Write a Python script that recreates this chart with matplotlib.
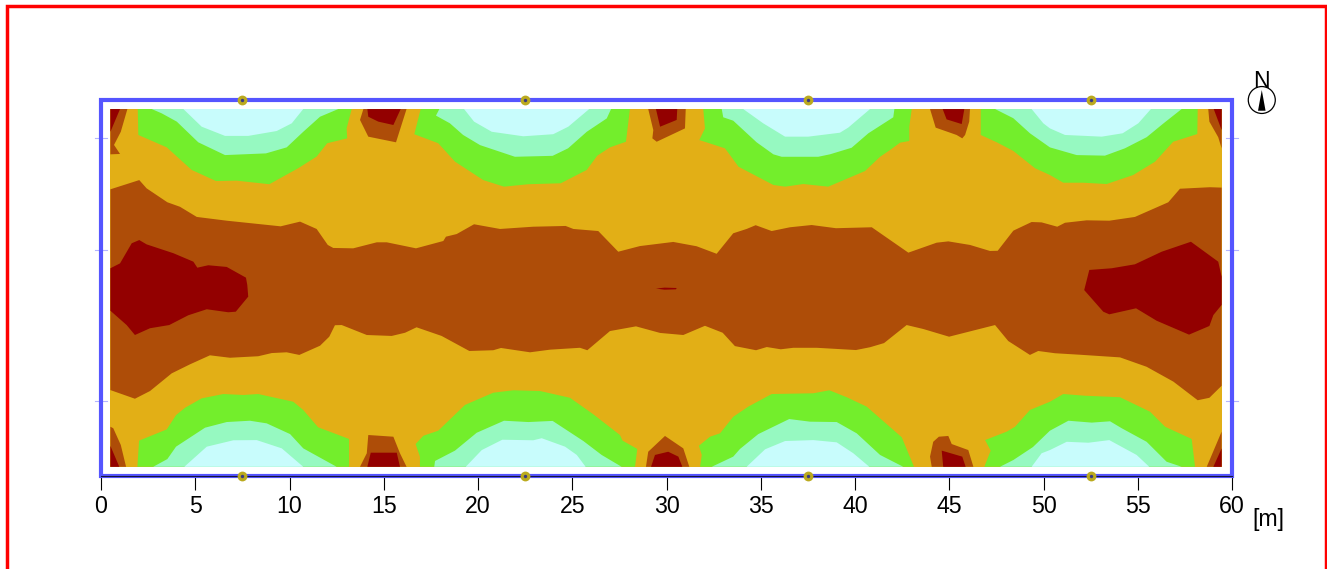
from matplotlib import pyplot as plt
from matplotlib.lines import Line2D
from matplotlib.patches import Circle, Polygon, Rectangle

plt.rcParams['font.family'] = ['Liberation Sans', 'DejaVu Sans']

# room 60 x 20 m, calculation area and luminaires
room_w = 60
room_h = 20
area_x = [0.5, 59.45]
area_y = [0.49, 19.52]
x_ticks = [0, 5, 10, 15, 20, 25, 30, 35, 40, 45, 50, 55, 60]
lum_x = [7.5, 22.5, 37.5, 52.5]
side_marks_y = [18, 12, 4]

col_red = '#930000'
col_brown = '#AE4D08'
col_yellow = '#E2AF16'
col_green = '#73EE2C'
col_mint = '#96F9C1'
col_cyan = '#C8FCFC'

# isolines in metres
band_top = [(0.5, 15.25), (2.03, 15.74), (2.42, 15.30), (3.52, 14.56), (4.19, 14.32), (5.08, 13.78), (6.67, 13.58),
            (9.53, 13.28), (10.56, 13.53), (11.44, 13.14), (12.03, 12.29), (12.32, 12.13), (13.38, 12.11),
            (14.63, 12.43), (15.16, 12.43), (16.71, 12.11), (18.16, 12.50), (18.30, 12.73), (18.87, 12.87),
            (19.79, 13.39), (21.17, 13.14), (22.93, 13.26), (24.65, 13.30), (25.06, 13.14), (26.38, 13.03),
            (27.44, 11.93), (28.59, 12.23), (30.36, 12.45), (31.60, 12.22), (32.66, 11.82), (33.54, 12.91),
            (34.25, 13.14), (34.73, 13.34), (35.58, 13.03), (36.55, 13.23), (37.70, 13.35), (38.99, 13.18),
            (40.89, 13.23), (42.83, 11.88), (44.33, 12.41), (44.95, 12.48), (46.10, 12.29), (47.16, 11.97),
            (47.57, 11.98), (48.40, 13.05), (49.37, 13.51), (49.90, 13.49), (50.73, 13.26), (51.14, 13.47),
            (52.29, 13.60), (53.49, 13.58), (54.85, 13.78), (56.62, 14.56), (57.24, 15.28), (58.83, 15.36),
            (59.45, 15.34)]
band_bottom = [(0.5, 4.57), (1.80, 4.11), (2.60, 4.52), (3.75, 5.46), (4.72, 5.94), (5.78, 6.42), (6.84, 6.29),
               (8.34, 6.37), (9.06, 6.54), (9.85, 6.58), (10.52, 6.44), (11.62, 6.93), (12.11, 7.41), (12.41, 8.02),
               (12.77, 8.03), (14.10, 7.50), (15.42, 7.45), (16.13, 7.62), (16.74, 7.91), (18.07, 7.45),
               (19.54, 6.65), (20.81, 6.69), (21.22, 6.81), (22.76, 6.58), (23.82, 6.72), (25.41, 6.82),
               (25.80, 6.69), (27.00, 7.71), (28.38, 7.96), (29.66, 7.61), (30.89, 7.50), (32.04, 7.99),
               (32.98, 7.62), (33.63, 6.91), (34.75, 6.69), (35.32, 6.86), (36.06, 6.74), (36.73, 6.82),
               (37.97, 6.82), (40.05, 6.70), (40.80, 6.85), (41.54, 7.07), (42.74, 8.03), (43.62, 7.82),
               (44.99, 7.41), (47.43, 8.03), (48.13, 7.18), (49.28, 6.44), (49.72, 6.65), (50.61, 6.53),
               (51.94, 6.45), (54.06, 6.31), (55.47, 5.81), (56.89, 5.02), (58.18, 4.03), (58.80, 4.16),
               (59.45, 4.80)]

hot_left = [(0.5, 11.05), (1.01, 11.31), (1.63, 12.38), (2.03, 12.55), (2.42, 12.32), (3.84, 11.85), (4.90, 11.40),
            (5.11, 11.08), (5.69, 11.21), (6.67, 11.12), (7.69, 10.55), (7.76, 10.16), (7.81, 9.54), (7.15, 8.74),
            (6.75, 8.71), (5.61, 8.87), (4.63, 8.55), (3.62, 8.03), (2.60, 7.86), (1.80, 7.50), (1.36, 8.03),
            (0.5, 8.79)]
hot_right = [(52.16, 9.89), (52.43, 10.96), (53.62, 11.05), (54.85, 11.26), (56.27, 11.93), (57.82, 12.46),
             (59.27, 11.40), (59.45, 10.60), (59.45, 9.10), (59.01, 8.56), (58.80, 7.98), (57.72, 7.52),
             (56.00, 8.26), (54.91, 8.92), (53.49, 8.60), (53.17, 8.74)]
hot_middle = [(29.44, 9.97), (29.9, 10.02), (30.54, 10.0), (30.5, 9.93), (29.9, 9.91)]

green_top = [
    [(1.95, 19.52), (1.98, 18.14), (3.49, 17.48), (4.81, 16.28), (6.10, 15.69), (7.20, 15.71), (8.93, 15.52),
     (10.46, 16.37), (11.44, 16.99), (12.00, 17.70), (13.06, 17.96), (13.03, 18.49), (13.30, 19.52)],
    [(16.96, 19.52), (16.62, 18.18), (17.89, 17.70), (18.78, 16.72), (20.28, 15.74), (21.38, 15.39), (22.67, 15.52),
     (24.39, 15.57), (25.77, 16.28), (26.33, 17.04), (27.00, 17.48), (27.85, 17.78), (28.06, 19.52)],
    [(31.95, 19.52), (32.04, 18.49), (31.74, 17.87), (33.10, 17.43), (33.37, 17.07), (33.82, 16.45), (35.67, 15.48),
     (36.29, 15.39), (37.26, 15.53), (38.58, 15.39), (40.53, 16.22), (41.33, 16.98), (41.86, 17.34), (42.39, 17.73),
     (42.88, 17.82), (42.88, 18.58), (43.01, 19.52)],
    [(46.67, 19.52), (46.67, 18.14), (47.52, 17.75), (48.40, 17.29), (49.55, 16.37), (50.34, 16.01), (51.05, 15.60),
     (52.11, 15.60), (53.35, 15.53), (54.76, 16.01), (55.92, 16.72), (56.88, 17.78), (58.16, 18.19), (58.18, 19.52)],
]
mint_top = [
    [(2.69, 19.52), (3.22, 19.29), (4.02, 18.85), (5.16, 17.75), (6.58, 17.07), (8.75, 17.16), (9.85, 17.48),
     (10.73, 18.31), (11.62, 19.11), (12.59, 19.52)],
    [(17.95, 19.52), (17.77, 19.17), (18.51, 18.76), (19.21, 18.14), (20.11, 17.60), (21.96, 16.98), (23.96, 17.03),
     (24.78, 17.43), (25.77, 18.31), (26.83, 19.02), (27.06, 19.52)],
    [(32.93, 19.52), (33.01, 19.08), (33.54, 18.90), (34.78, 17.75), (35.67, 17.11), (36.11, 16.98), (38.05, 16.98),
     (38.67, 17.11), (39.82, 17.46), (40.71, 18.23), (42.03, 19.08), (42.09, 19.52)],
    [(47.43, 19.52), (48.40, 19.03), (49.28, 18.23), (50.34, 17.48), (51.76, 17.07), (53.26, 17.04), (54.32, 17.43),
     (55.47, 18.02), (56.37, 18.76), (57.33, 19.52)],
]
cyan_top = [
    [(4.37, 19.52), (5.34, 18.58), (6.58, 18.09), (7.81, 18.09), (9.32, 18.35), (10.12, 18.76), (10.73, 19.52)],
    [(19.26, 19.52), (19.79, 18.85), (20.73, 18.31), (22.40, 18.07), (23.99, 18.18), (24.79, 18.58), (25.90, 19.52)],
    [(34.07, 19.52), (35.13, 18.76), (36.29, 18.05), (37.52, 18.05), (39.20, 18.26), (39.64, 18.53), (40.80, 19.52)],
    [(49.37, 19.52), (49.99, 18.76), (50.34, 18.49), (51.14, 18.14), (53.09, 18.05), (54.20, 18.23), (55.03, 18.76),
     (55.70, 19.52)],
]
green_bottom = [
    [(1.93, 0.49), (2.02, 1.88), (3.49, 2.48), (3.98, 3.24), (4.46, 3.63), (5.34, 4.13), (6.49, 4.36), (7.55, 4.31),
     (8.34, 4.36), (10.20, 3.95), (10.73, 3.51), (11.52, 2.59), (13.16, 1.97), (13.16, 0.49)],
    [(16.92, 0.49), (16.92, 1.03), (16.69, 1.70), (17.10, 2.14), (17.89, 2.41), (19.31, 3.78), (20.81, 4.43),
     (21.87, 4.56), (23.29, 4.52), (24.88, 4.16), (26.12, 3.28), (27.53, 2.18), (27.67, 1.88), (28.45, 1.44),
     (28.33, 0.49)],
    [(31.78, 0.49), (31.87, 1.12), (31.72, 1.61), (32.31, 2.09), (32.84, 2.27), (33.54, 3.15), (34.34, 3.69),
     (35.58, 4.36), (37.79, 4.40), (38.64, 4.56), (39.56, 4.19), (40.62, 3.69), (42.48, 2.06), (43.13, 0.49)],
    [(46.86, 0.49), (47.20, 1.35), (46.90, 1.91), (48.05, 2.36), (48.49, 2.62), (49.28, 3.51), (50.34, 3.95),
     (51.05, 4.36), (52.20, 4.27), (54.06, 4.19), (55.65, 3.42), (56.45, 2.62), (57.86, 1.97), (58.04, 0.49)],
]
mint_bottom = [
    [(2.77, 0.49), (3.52, 0.90), (3.98, 1.56), (5.52, 2.57), (6.67, 2.87), (7.90, 2.94), (8.79, 2.80), (10.03, 2.23),
     (10.73, 1.47), (12.50, 0.49)],
    [(17.68, 0.49), (17.72, 0.80), (18.78, 1.35), (19.93, 2.30), (21.38, 2.94), (22.67, 2.87), (23.96, 2.93),
     (25.59, 1.86), (26.56, 1.12), (27.62, 0.49)],
    [(32.40, 0.49), (33.54, 1.03), (33.90, 1.44), (34.87, 2.23), (36.51, 3.03), (37.61, 2.89), (39.03, 2.87),
     (40.09, 2.27), (41.33, 1.12), (42.56, 0.49)],
    [(47.69, 0.49), (48.40, 0.85), (49.44, 1.54), (50.34, 2.41), (51.32, 2.94), (52.56, 2.84), (53.53, 2.91),
     (54.15, 2.54), (55.47, 1.82), (56.53, 0.76), (57.33, 0.49)],
]
cyan_bottom = [
    [(4.42, 0.49), (5.61, 1.56), (7.02, 1.90), (8.26, 1.91), (9.59, 1.47), (10.73, 0.49)],
    [(19.35, 0.49), (20.20, 1.38), (21.29, 1.93), (22.93, 1.90), (23.38, 2.01), (24.62, 1.56), (25.24, 1.12),
     (25.71, 0.49)],
    [(34.25, 0.49), (35.23, 1.42), (36.29, 1.86), (37.79, 1.91), (39.03, 1.79), (39.91, 1.21), (40.76, 0.49)],
    [(49.37, 0.49), (49.90, 1.21), (50.34, 1.38), (51.23, 1.82), (52.38, 1.77), (53.49, 1.91), (54.94, 1.12),
     (55.61, 0.49)],
]
# small hot spots along the long walls and in the corners
spots_brown = [
    [(13.92, 19.52), (13.74, 18.94), (14.18, 18.05), (15.65, 17.75), (16.21, 19.52)],
    [(29.03, 19.52), (29.30, 18.40), (29.25, 17.96), (29.48, 17.78), (30.98, 18.49), (31.02, 19.52)],
    [(43.98, 19.52), (44.28, 18.53), (45.39, 18.14), (45.69, 17.96), (45.84, 18.14), (46.06, 18.85), (46.10, 19.52)],
    [(1.40, 19.52), (1.05, 18.31), (0.69, 17.61), (1.01, 17.13), (0.5, 17.11), (0.5, 19.52)],
    [(58.74, 19.52), (58.80, 18.85), (59.27, 18.02), (59.45, 17.43), (59.45, 19.52)],
    [(0.5, 2.62), (0.65, 2.54), (1.05, 1.65), (1.33, 0.49), (0.5, 0.49)],
    [(59.45, 2.36), (58.66, 0.49), (59.45, 0.49)],
    [(13.74, 0.49), (14.10, 1.21), (14.18, 2.18), (15.51, 2.09), (15.86, 1.21), (16.21, 0.49)],
    [(28.91, 0.49), (29.03, 1.29), (29.92, 2.13), (30.89, 1.47), (31.21, 0.49)],
    [(44.07, 0.49), (43.98, 1.03), (44.15, 1.82), (44.45, 2.09), (44.95, 2.13), (45.13, 1.70), (46.01, 1.38),
     (46.28, 0.49)],
]
spots_red = [
    [(14.13, 19.52), (14.18, 19.11), (14.71, 18.85), (15.51, 18.67), (15.90, 19.52)],
    [(29.44, 19.52), (29.66, 18.58), (30.54, 18.94), (30.57, 19.52)],
    [(44.65, 19.52), (44.86, 18.97), (45.66, 18.72), (45.80, 19.52)],
    [(1.01, 19.52), (0.5, 18.31), (0.5, 19.52)],
    [(59.03, 19.52), (59.45, 18.40), (59.45, 19.52)],
    [(0.5, 1.60), (0.97, 0.49), (0.5, 0.49)],
    [(59.45, 1.47), (59.01, 0.49), (59.45, 0.49)],
    [(14.13, 0.49), (14.31, 1.24), (15.69, 1.24), (15.86, 0.49)],
    [(29.18, 0.49), (29.39, 1.12), (30.09, 1.29), (30.63, 1.03), (30.84, 0.49)],
    [(44.68, 0.49), (44.60, 1.35), (45.69, 1.03), (45.87, 0.49)],
]

north_x = 61.58
north_y = 20.0


def fill_outline(ax, outline, color):
    xs, ys = zip(*outline)
    ax.fill(xs, ys, color=color, linewidth=0)


fig = plt.figure(figsize=(13.27, 5.69), dpi=100)
ax = fig.add_axes([101 / 1327, (569 - 476) / 569, 1131 / 1327, 376 / 569])
ax.set_xlim(0, room_w)
ax.set_ylim(0, room_h)

# contour bands, lowest level first
ax.fill([area_x[0], area_x[1], area_x[1], area_x[0]], [area_y[0], area_y[0], area_y[1], area_y[1]],
        color=col_yellow, linewidth=0)
fill_outline(ax, band_top + band_bottom[::-1], col_brown)
for outline in [hot_left, hot_right, hot_middle]:
    fill_outline(ax, outline, col_red)
for outline in green_top + green_bottom:
    fill_outline(ax, outline, col_green)
for outline in mint_top + mint_bottom:
    fill_outline(ax, outline, col_mint)
for outline in cyan_top + cyan_bottom:
    fill_outline(ax, outline, col_cyan)
for outline in spots_brown:
    fill_outline(ax, outline, col_brown)
for outline in spots_red:
    fill_outline(ax, outline, col_red)

# room outline
ax.add_patch(Rectangle((0, 0), room_w, room_h, fill=False, edgecolor='#5555FF', linewidth=3, clip_on=False, zorder=3))
for y in side_marks_y:
    ax.plot([-0.33, 0.3], [y, y], color='#B4B4FF', linewidth=0.8, clip_on=False, zorder=2)
    ax.plot([room_w - 0.33, room_w + 0.33], [y, y], color='#B4B4FF', linewidth=0.8, clip_on=False, zorder=2)

# luminaires on both long walls
for y in [0, room_h]:
    ax.scatter(lum_x, [y] * len(lum_x), s=50, color='#BBAA1E', linewidth=0, clip_on=False, zorder=4)
    ax.scatter(lum_x, [y] * len(lum_x), s=6, color='#3A3A80', linewidth=0, clip_on=False, zorder=5)

for side in ['top', 'left', 'right']:
    ax.spines[side].set_visible(False)
ax.spines['bottom'].set_linewidth(0.8)
ax.spines['bottom'].set_color('#15153A')
ax.spines['bottom'].set_zorder(3.5)
ax.set_yticks([])
ax.set_xticks(x_ticks)
ax.tick_params(axis='x', length=10, width=0.8, pad=3.7, labelsize=16.7)
ax.text(61.1, -2.66, '[m]', fontsize=16.7, ha='left', va='baseline')

# north arrow
ax.add_patch(Circle((north_x, north_y), 0.716, fill=False, edgecolor='black', linewidth=0.9, clip_on=False))
ax.add_patch(Polygon([(north_x, north_y + 0.53), (north_x - 0.2, north_y - 0.57), (north_x + 0.2, north_y - 0.57)],
                     color='black', linewidth=0, clip_on=False))
ax.text(north_x, north_y + 0.64, 'N', fontsize=16.7, ha='center', va='baseline')

# red page border, open at the bottom
fig.add_artist(Line2D([7 / 1327, 7 / 1327, 1325.5 / 1327, 1325.5 / 1327], [0, 1 - 5.5 / 569, 1 - 5.5 / 569, 0],
                      color='#FF0000', linewidth=2.5, solid_joinstyle='miter'))

plt.savefig('out.png', dpi=100)
